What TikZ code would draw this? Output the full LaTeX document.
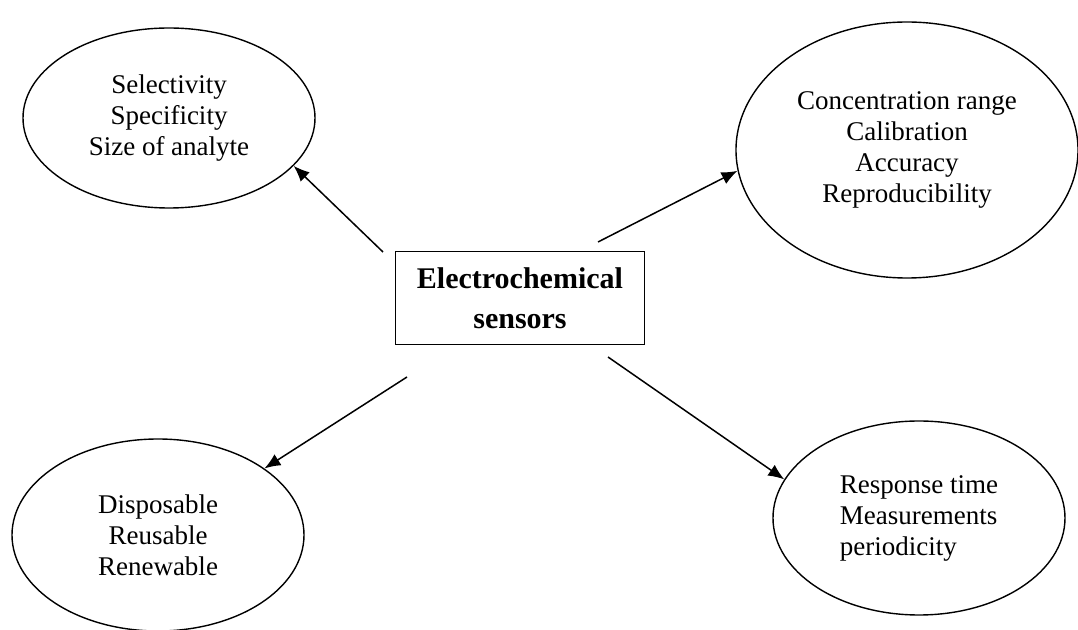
\documentclass[tikz,border=0pt]{standalone}
\usepackage{fontspec}
\setmainfont{Liberation Serif}
\usetikzlibrary{
    arrows.meta,
    shapes.geometric,
    positioning
}

\begin{document}
\begin{tikzpicture}[x=0.5pt, y=-0.5pt,
        prop/.style={draw, ellipse, line width=0.7pt, inner sep=0pt, align=center,
            font=\fontsize{13.5}{15.5}\selectfont},
        link/.style={line width=0.75pt, -{Latex[length=8pt, width=6.5pt]}}]
    \useasboundingbox (0, 0) rectangle (1078, 630);
    \node[draw, line width=0.8pt, minimum width=124.5pt, minimum height=46.5pt, align=center,
        font=\fontsize{15}{20}\selectfont\bfseries] (sensor) at (520, 298) {Electrochemical\\sensors};
    \node[prop, minimum width=146pt, minimum height=90pt] (sel) at (169, 118)
        {Selectivity\\Specificity\\Size of analyte};
    \node[prop, minimum width=171pt, minimum height=128pt] (conc) at (907, 150)
        {Concentration range\\Calibration\\Accuracy\\Reproducibility};
    \node[prop, minimum width=146pt, minimum height=96pt] (disp) at (158, 535)
        {Disposable\\Reusable\\Renewable};
    \node[prop, minimum width=146pt, minimum height=97pt, align=left] (resp) at (919, 518)
        {Response time\\Measurements\\periodicity};
    \coordinate (fromsel) at (383, 252);
    \coordinate (fromconc) at (598, 242);
    \coordinate (fromdisp) at (407, 377);
    \coordinate (fromresp) at (608, 357);
    \draw[link] (fromsel) -- (sel.-21);
    \draw[link] (fromconc) -- (conc.187);
    \draw[link] (fromdisp) -- (disp.32);
    \draw[link] (fromresp) -- (resp.164);
\end{tikzpicture}
\end{document}
